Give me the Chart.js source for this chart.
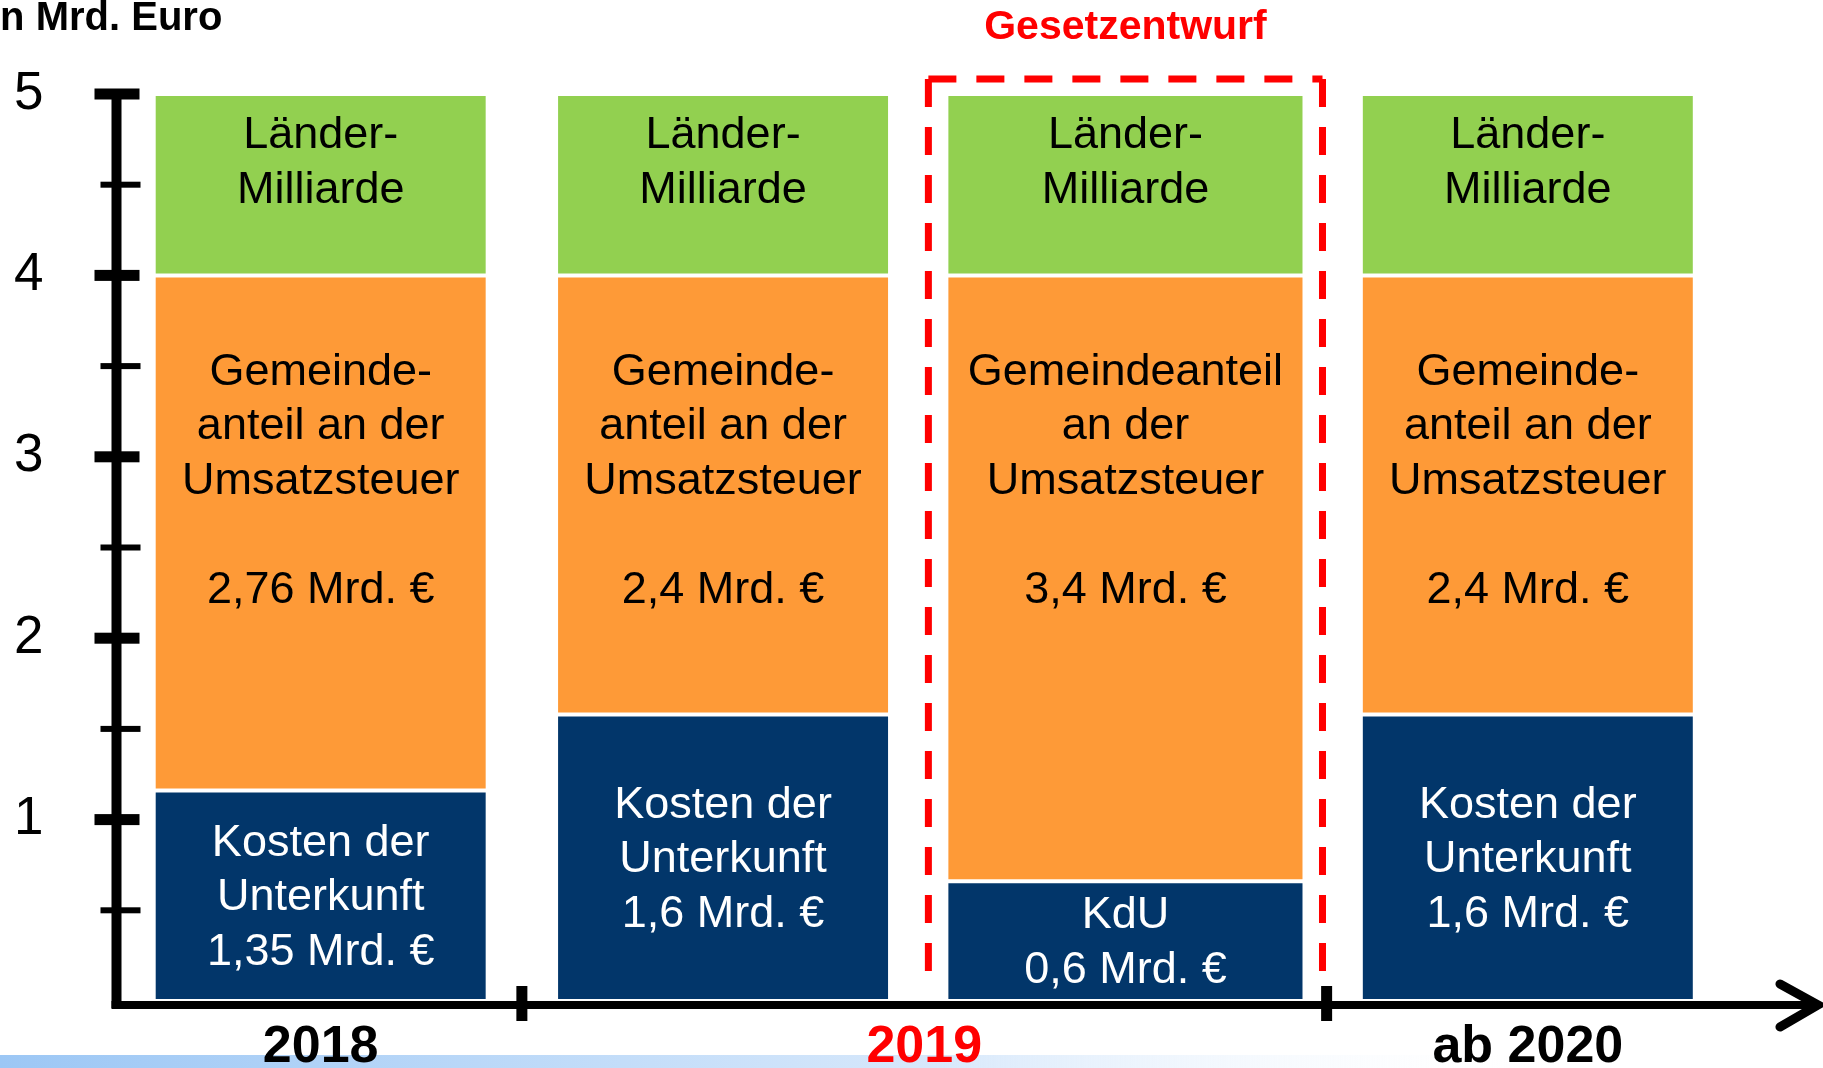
<!DOCTYPE html>
<html lang="de">
<head>
<meta charset="utf-8">
<title>Kommunale Entlastung in Mrd. Euro</title>
<script src="https://cdn.jsdelivr.net/npm/chart.js@4.4.1/dist/chart.umd.min.js"></script>
<style>
  html, body { margin: 0; padding: 0; background: #fff; overflow: hidden; }
  canvas { display: block; }
</style>
</head>
<body>
<canvas id="chart" width="1823" height="1068"></canvas>
<script>
// Kategorien (zwei Balken für 2019: geltend / Gesetzentwurf)
const categories = ["2018", "2019", "2019", "ab 2020"];
const redCategories = ["2019"];
const draftIndex = 2;
const draftLabel = "Gesetzentwurf";
const axisTitle = "In Mrd. Euro";

// Balkenhöhen wie gezeichnet (Mrd. Euro)
const kduValues = [1.16, 1.58, 0.66, 1.58];
const gemeindeValues = [2.84, 2.42, 3.34, 2.42];
const laenderValues = [1, 1, 1, 1];

// Beschriftungen in den Balken
const kduTexts = [
  ["Kosten der", "Unterkunft", "1,35 Mrd. €"],
  ["Kosten der", "Unterkunft", "1,6 Mrd. €"],
  ["KdU", "0,6 Mrd. €"],
  ["Kosten der", "Unterkunft", "1,6 Mrd. €"]
];
const gemeindeTexts = [
  ["Gemeinde-", "anteil an der", "Umsatzsteuer", "", "2,76 Mrd. €"],
  ["Gemeinde-", "anteil an der", "Umsatzsteuer", "", "2,4 Mrd. €"],
  ["Gemeindeanteil", "an der", "Umsatzsteuer", "", "3,4 Mrd. €"],
  ["Gemeinde-", "anteil an der", "Umsatzsteuer", "", "2,4 Mrd. €"]
];
const laenderTexts = [
  ["Länder-", "Milliarde"],
  ["Länder-", "Milliarde"],
  ["Länder-", "Milliarde"],
  ["Länder-", "Milliarde"]
];

const FONT = '"Liberation Sans", Arial, Helvetica, sans-serif';
const LINE = 54.5;

const decor = {
  id: "decor",
  beforeDraw(chart) {
    const { ctx, height } = chart;
    // hellblaues Band unten
    const g = ctx.createLinearGradient(0, 0, 1560, 0);
    g.addColorStop(0, "#9cc7f5");
    g.addColorStop(0.6, "#d7e8fb");
    g.addColorStop(1, "rgba(255,255,255,0)");
    ctx.save();
    ctx.fillStyle = g;
    ctx.fillRect(0, height - 13, 1560, 13);
    ctx.restore();
  },
  beforeDatasetsDraw(chart) {
    const { ctx, chartArea, scales: { x, y } } = chart;
    const ax = chartArea.left - 3;
    const y0 = y.getPixelForValue(0);
    const y5 = y.getPixelForValue(5);
    ctx.save();
    ctx.fillStyle = "#000";
    ctx.strokeStyle = "#000";

    // y-Achse mit Haupt- und Nebenstrichen
    ctx.fillRect(ax - 5, y5 - 5, 10, y0 - y5 + 12);
    y.ticks.forEach(t => {
      if (t.value === 0) return;
      const py = y.getPixelForValue(t.value);
      if (Number.isInteger(t.value)) ctx.fillRect(ax - 22, py - 5.5, 45, 11);
      else ctx.fillRect(ax - 16, py - 3, 40, 6);
    });

    // x-Achse mit Pfeil
    const ay = y0 + 4;
    const tip = chart.width - 5;
    ctx.fillRect(ax - 5, ay - 4, tip - ax, 8);
    ctx.lineWidth = 9;
    ctx.lineCap = "round";
    ctx.beginPath();
    ctx.moveTo(tip - 38, ay - 21);
    ctx.lineTo(tip, ay);
    ctx.lineTo(tip - 38, ay + 22);
    ctx.stroke();

    // Trennstriche zwischen den Jahren
    for (let i = 0; i < categories.length - 1; i++) {
      if (categories[i] === categories[i + 1]) continue;
      const px = (x.getPixelForValue(i) + x.getPixelForValue(i + 1)) / 2;
      ctx.fillRect(px - 5.5, y0 - 15, 11, 35);
    }
    ctx.restore();
  },
  afterDatasetsDraw(chart) {
    const { ctx, scales: { x, y } } = chart;
    const y0 = y.getPixelForValue(0);
    ctx.save();
    ctx.textAlign = "center";
    ctx.textBaseline = "middle";
    ctx.font = `45px ${FONT}`;

    // Texte in den Balken
    let draftBar = null;
    chart.data.datasets.forEach((ds, di) => {
      const meta = chart.getDatasetMeta(di);
      meta.data.forEach((bar, i) => {
        if (ds.data[i] == null) return;
        if (i === draftIndex) draftBar = bar;
        const lines = ds.texts[i];
        const top = Math.min(bar.y, bar.base);
        const bottom = Math.max(bar.y, bar.base);
        let first;
        if (ds.textAnchor === "center") first = (top + bottom) / 2 - (lines.length - 1) * LINE / 2 + 2;
        else first = top + ds.textOffset;
        ctx.fillStyle = ds.textColor;
        lines.forEach((t, k) => ctx.fillText(t, bar.x, first + k * LINE));
      });
    });

    // gestrichelter Rahmen um den Gesetzentwurf (unten offen)
    const half = draftBar.width / 2 + 18;
    const left = draftBar.x - half;
    const right = draftBar.x + half;
    const boxTop = y.getPixelForValue(5) - 15;
    const boxBottom = y0 - 10;
    ctx.strokeStyle = "#ff0000";
    ctx.lineWidth = 7;
    ctx.setLineDash([28, 20]);
    [[left, boxTop, left, boxBottom], [left, boxTop, right, boxTop], [right, boxTop, right, boxBottom]]
      .forEach(([x1, y1, x2, y2]) => {
        ctx.beginPath();
        ctx.moveTo(x1, y1);
        ctx.lineTo(x2, y2);
        ctx.stroke();
      });
    ctx.setLineDash([]);

    ctx.textBaseline = "alphabetic";
    ctx.fillStyle = "#ff0000";
    ctx.font = `bold 41px ${FONT}`;
    ctx.fillText(draftLabel, draftBar.x, boxTop - 40);

    // Achsentitel
    ctx.fillStyle = "#000";
    ctx.textAlign = "left";
    ctx.font = `bold 40px ${FONT}`;
    ctx.fillText(axisTitle, -11, 30);

    // Jahresbeschriftung
    ctx.textAlign = "center";
    ctx.font = `bold 52px ${FONT}`;
    let start = 0;
    for (let i = 1; i <= categories.length; i++) {
      if (i < categories.length && categories[i] === categories[start]) continue;
      const cx = (x.getPixelForValue(start) + x.getPixelForValue(i - 1)) / 2;
      ctx.fillStyle = redCategories.includes(categories[start]) ? "#ff0000" : "#000";
      ctx.fillText(categories[start], cx, y0 + 61);
      start = i;
    }
    ctx.restore();
  }
};

// Balken des Gesetzentwurfs etwas breiter: eigene Datensätze
const onlyRegular = (arr) => arr.map((v, i) => (i === draftIndex ? null : v));
const onlyDraft = (arr) => arr.map((v, i) => (i === draftIndex ? v : null));

const series = [
  { label: "Kosten der Unterkunft", values: kduValues, color: "#02366a",
    texts: kduTexts, textColor: "#ffffff", textAnchor: "center" },
  { label: "Gemeindeanteil an der Umsatzsteuer", values: gemeindeValues, color: "#fe9a37",
    texts: gemeindeTexts, textColor: "#000000", textAnchor: "top", textOffset: 97 },
  { label: "Länder-Milliarde", values: laenderValues, color: "#92d050",
    texts: laenderTexts, textColor: "#000000", textAnchor: "top", textOffset: 42 }
];

const datasets = [];
series.forEach(s => {
  const base = {
    label: s.label, backgroundColor: s.color, texts: s.texts, textColor: s.textColor,
    textAnchor: s.textAnchor, textOffset: s.textOffset,
    borderColor: "#ffffff", borderWidth: 2, borderSkipped: false, categoryPercentage: 1
  };
  datasets.push({ ...base, data: onlyRegular(s.values), barPercentage: 0.83 });
  datasets.push({ ...base, data: onlyDraft(s.values), barPercentage: 0.89 });
});

new Chart(document.getElementById("chart"), {
  type: "bar",
  data: { labels: categories, datasets },
  options: {
    responsive: false,
    animation: false,
    layout: { padding: { left: 14, right: 94, top: 94, bottom: 67 } },
    plugins: { legend: { display: false }, tooltip: { enabled: false } },
    scales: {
      x: { stacked: true, display: false },
      y: {
        stacked: true,
        min: 0,
        max: 5,
        afterFit: (scale) => { scale.width = 105.5; },
        grid: { display: false, drawTicks: false },
        border: { display: false },
        ticks: {
          stepSize: 0.5,
          autoSkip: false,
          padding: 0,
          crossAlign: "far",
          color: "#000",
          font: { size: 53, family: FONT },
          callback: (v) => (Number.isInteger(v) && v > 0 ? String(v) : "")
        }
      }
    }
  },
  plugins: [decor]
});
</script>
</body>
</html>
